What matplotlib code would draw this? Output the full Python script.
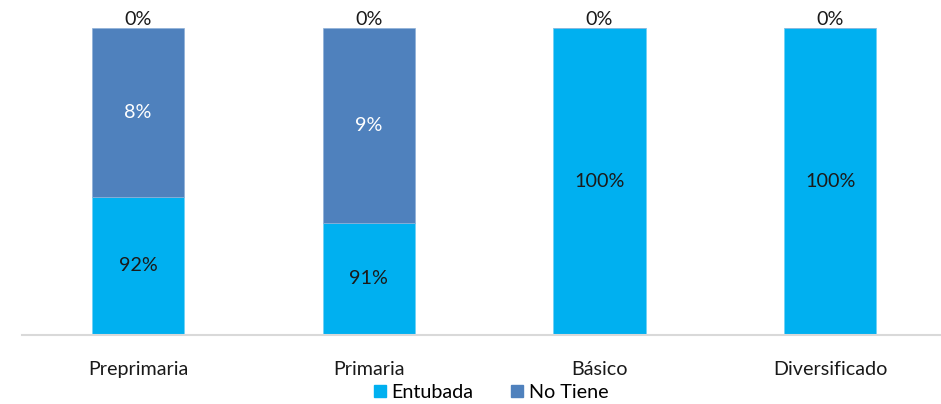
import matplotlib
matplotlib.use("Agg")
from matplotlib import pyplot as plt
from matplotlib.patches import Patch

# niveles educativos y porcentajes que muestra el grafico
niveles = ["Preprimaria", "Primaria", "Básico", "Diversificado"]
entubada_pct = [92, 91, 100, 100]
no_tiene_pct = [8, 9, 0, 0]
otro_pct = [0, 0, 0, 0]

# alto de cada tramo tal como se ve en la imagen (escala 0-100)
entubada_alto = [45, 36.6, 100, 100]
no_tiene_alto = [55, 63.4, 0, 0]

color_entubada = "#00B0F0"
color_no_tiene = "#4F81BD"

plt.rcParams['font.family'] = ['Lato', 'DejaVu Sans']

fig = plt.figure(figsize=(9.41, 4.04), dpi=100)
ax = fig.add_axes([0.0239, 0.1708, 0.9761, 0.7599])

x = range(len(niveles))
ax.bar(x, entubada_alto, width=0.40, color=color_entubada, edgecolor="#6fd0f5", linewidth=0.5)
ax.bar(x, no_tiene_alto, width=0.40, bottom=entubada_alto, color=color_no_tiene,
       edgecolor="#8fb0d8", linewidth=0.5)

fs = 14.2
for i in x:
    # etiqueta de entubada
    ax.text(i, entubada_alto[i] / 2, f"{entubada_pct[i]}%", ha="center", va="center",
            fontsize=fs, color="#1a1a1a")
    # etiqueta de no tiene (solo si se ve el tramo)
    if no_tiene_alto[i] > 0:
        ax.text(i, entubada_alto[i] + no_tiene_alto[i] / 2, f"{no_tiene_pct[i]}%",
                ha="center", va="center", fontsize=fs, color="white")
    # la serie en cero queda arriba
    ax.text(i, 100, f"{otro_pct[i]}%", ha="center", va="bottom", fontsize=fs, color="#1a1a1a")

ax.set_xlim(-0.5, 3.48)
ax.set_ylim(0, 100)
ax.set_xticks(list(x))
ax.set_xticklabels(niveles, fontsize=fs, color="#1a1a1a")
ax.tick_params(axis="x", length=0, pad=19)
ax.set_yticks([])
for lado in ["top", "right", "left"]:
    ax.spines[lado].set_visible(False)
ax.spines["bottom"].set_color("#D9D9D9")
ax.spines["bottom"].set_linewidth(1.5)

handles = [Patch(color=color_entubada, label="Entubada"),
           Patch(color=color_no_tiene, label="No Tiene")]
fig.legend(handles=handles, loc="center", bbox_to_anchor=(0.522, 0.028), ncol=2,
           frameon=False, fontsize=fs, handlelength=0.6, handleheight=0.6,
           handletextpad=0.3, columnspacing=1.9)

fig.savefig("out.png", dpi=100)
